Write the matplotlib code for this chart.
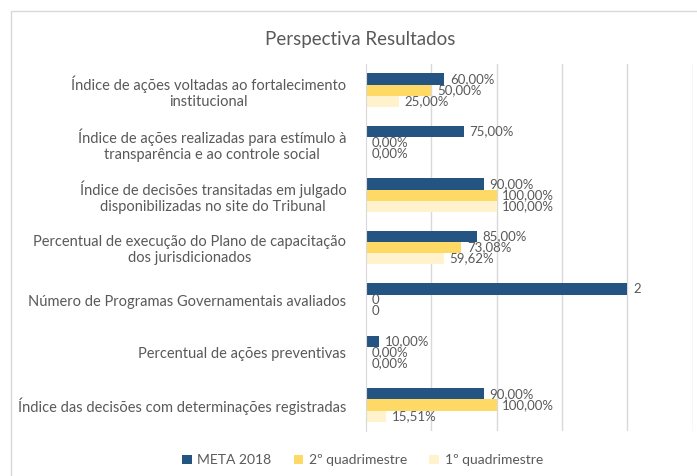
import numpy as np
import matplotlib.pyplot as plt
from matplotlib.patches import Rectangle

plt.rcParams['font.family'] = ['Lato', 'DejaVu Sans']

categories = [
    'Índice de ações voltadas ao fortalecimento\ninstitucional',
    'Índice de ações realizadas para estímulo à\ntransparência e ao controle social',
    'Índice de decisões transitadas em julgado\ndisponibilizadas no site do Tribunal',
    'Percentual de execução do Plano de capacitação\ndos jurisdicionados',
    'Número de Programas Governamentais avaliados',
    'Percentual de ações preventivas',
    'Índice das decisões com determinações registradas',
]
meta_2018 = [0.60, 0.75, 0.90, 0.85, 2, 0.10, 0.90]
quad_2 = [0.50, 0.00, 1.00, 0.7308, 0, 0.00, 1.00]
quad_1 = [0.25, 0.00, 1.00, 0.5962, 0, 0.00, 0.1551]
is_count = [False, False, False, False, True, False, False]

series_names = ['META 2018', '2º quadrimestre', '1º quadrimestre']
colors = ['#245482', '#FFD966', '#FFF2CC']
text_color = '#595959'

fig = plt.figure(figsize=(6.97, 4.76), dpi=100)
ax = fig.add_axes([0.525, 0.094, 0.469, 0.772])

# chart border
fig.patches.append(Rectangle((11 / 697, -0.1), 1.0, 1 - 11 / 476 + 0.1,
                             transform=fig.transFigure, fill=False,
                             edgecolor='#D9D9D9', linewidth=1))

y = np.arange(len(categories))
h = 0.21
all_series = [meta_2018, quad_2, quad_1]
for i, (vals, name, c) in enumerate(zip(all_series, series_names, colors)):
    pos = y + (i - 1) * h
    bars = ax.barh(pos, vals, height=h, color=c, label=name, zorder=2)
    labels = []
    for v, cnt in zip(vals, is_count):
        if cnt:
            labels.append(f'{v:g}')
        else:
            labels.append(f'{v * 100:.2f}%'.replace('.', ','))
    ax.bar_label(bars, labels=labels, padding=4, fontsize=9.5,
                 color=text_color)

ax.set_xlim(0, 2.5)
ax.set_ylim(len(categories) - 0.5, -0.5)
ax.set_xticks([0.5, 1.0, 1.5, 2.0, 2.5])
ax.set_xticklabels([])
ax.grid(axis='x', color='#D9D9D9', linewidth=1, zorder=0)
ax.tick_params(axis='both', length=0)
ax.set_yticks(y)
ax.set_yticklabels(categories, fontsize=10.5, color=text_color,
                   multialignment='center')
ax.tick_params(axis='y', pad=14)
for s in ['top', 'right', 'bottom']:
    ax.spines[s].set_visible(False)
ax.spines['left'].set_color('#D9D9D9')

fig.text(0.517, 0.918, 'Perspectiva Resultados', ha='center', va='center',
         fontsize=13.5, color=text_color)

fig.legend(loc='center', bbox_to_anchor=(0.52, 0.033), ncol=3, frameon=False,
           fontsize=10, labelcolor=text_color, handlelength=0.7,
           handleheight=0.7, handletextpad=0.4, columnspacing=1.6)

fig.savefig('out.png', dpi=100)
